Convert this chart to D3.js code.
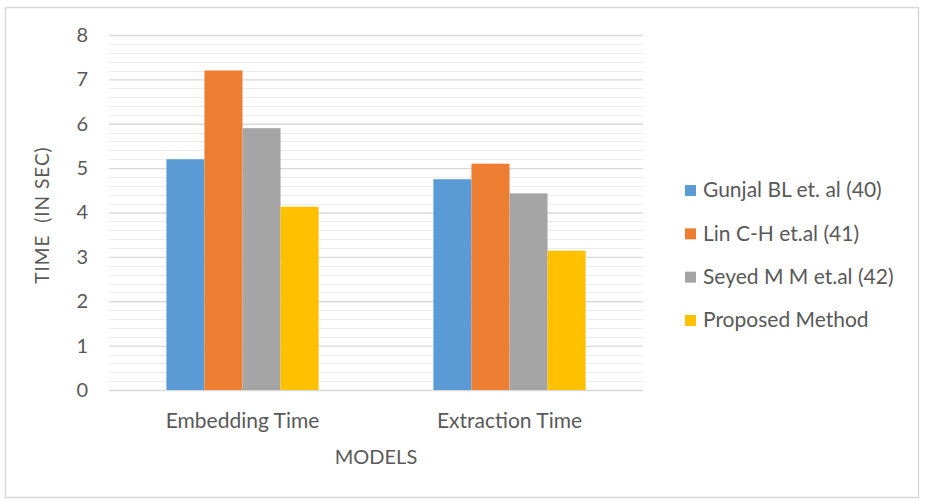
<!DOCTYPE html>
<html>
<head>
<meta charset="utf-8">
<script src="https://cdn.jsdelivr.net/npm/d3@7/dist/d3.min.js"></script>
<style>
  html, body { margin: 0; padding: 0; background: #fff; }
  svg { display: block; }
  text { font-family: Lato, "Open Sans", sans-serif; fill: #595959; }
</style>
</head>
<body>
<svg id="chart" width="925" height="501"></svg>
<script>
// Categories, series and values
const categories = ["Embedding Time", "Extraction Time"];
const seriesNames = ["Gunjal BL et. al (40)", "Lin C-H et.al (41)", "Seyed M M et.al (42)", "Proposed Method"];
const seriesColors = ["#5B9BD5", "#ED7D31", "#A5A5A5", "#FFC000"];
const gunjal = [5.2, 4.75];
const linCH = [7.2, 5.1];
const seyed = [5.9, 4.43];
const proposed = [4.13, 3.14];
const yTicks = [0, 1, 2, 3, 4, 5, 6, 7, 8];

const seriesValues = [gunjal, linCH, seyed, proposed];
const rows = [];
categories.forEach((c, ci) => {
  seriesNames.forEach((s, si) => rows.push({ cat: c, series: s, si, value: seriesValues[si][ci] }));
});

const svg = d3.select("#chart");

// Outer chart frame
svg.append("rect")
  .attr("x", 5.5).attr("y", 7.5).attr("width", 913).attr("height", 490)
  .attr("fill", "#fff").attr("stroke", "#d9d9d9").attr("stroke-width", 1.5);

const plot = { left: 109, right: 643, top: 35, bottom: 390 };

const y = d3.scaleLinear().domain([0, 8]).range([plot.bottom, plot.top]);
const x0 = d3.scaleBand().domain(categories).range([plot.left, plot.right]).paddingInner(0.43).paddingOuter(0.215);
const x1 = d3.scaleBand().domain(seriesNames).range([0, x0.bandwidth()]);

// Minor gridlines every 0.2
const minor = d3.range(0, 8.01, 0.2).filter(v => Math.abs(v - Math.round(v)) > 1e-6);
svg.append("g").selectAll("line").data(minor).join("line")
  .attr("x1", plot.left).attr("x2", plot.right)
  .attr("y1", d => Math.round(y(d)) + 0.5).attr("y2", d => Math.round(y(d)) + 0.5)
  .attr("stroke", "#ececec").attr("stroke-width", 1);

// Major gridlines via axis
const yAxis = d3.axisLeft(y).tickValues(yTicks).tickFormat(d3.format("d"))
  .tickSize(-(plot.right - plot.left)).tickPadding(21);
const gy = svg.append("g").attr("transform", `translate(${plot.left},0)`).call(yAxis);
gy.select(".domain").remove();
gy.selectAll(".tick line").attr("stroke", "#d9d9d9").attr("stroke-width", 1.3);
gy.selectAll(".tick text").attr("font-size", 20).style("fill", "#595959")
  .attr("font-family", "Lato, 'Open Sans', sans-serif");

// Bars
svg.append("g").selectAll("rect").data(rows).join("rect")
  .attr("x", d => x0(d.cat) + x1(d.series))
  .attr("y", d => y(d.value))
  .attr("width", x1.bandwidth())
  .attr("height", d => y(0) - y(d.value))
  .attr("fill", d => seriesColors[d.si]);

// Category axis
const xAxis = d3.axisBottom(x0).tickSize(0).tickPadding(23);
const gx = svg.append("g").attr("transform", `translate(0,${plot.bottom})`).call(xAxis);
gx.select(".domain").remove();
gx.selectAll(".tick text").attr("font-size", 21).style("fill", "#595959")
  .attr("font-family", "Lato, 'Open Sans', sans-serif");

// Axis titles
svg.append("text")
  .attr("x", (plot.left + plot.right) / 2).attr("y", 464)
  .attr("text-anchor", "middle").attr("font-size", 20)
  .text("MODELS");
svg.append("text")
  .attr("transform", `translate(49,215) rotate(-90)`)
  .attr("text-anchor", "middle").attr("font-size", 19)
  .attr("letter-spacing", 1)
  .attr("xml:space", "preserve")
  .text("TIME  (IN SEC)");

// Legend
const legend = svg.append("g").attr("transform", "translate(685,0)");
const ly = d3.scalePoint().domain(seriesNames).range([190, 320]);
const li = legend.selectAll("g").data(seriesNames).join("g")
  .attr("transform", d => `translate(0,${ly(d)})`);
li.append("rect").attr("x", 0).attr("y", -5).attr("width", 11).attr("height", 11)
  .attr("fill", (d, i) => seriesColors[i]);
li.append("text").attr("x", 18).attr("y", 0).attr("dy", "0.35em")
  .attr("font-size", 21).text(d => d);
</script>
</body>
</html>
